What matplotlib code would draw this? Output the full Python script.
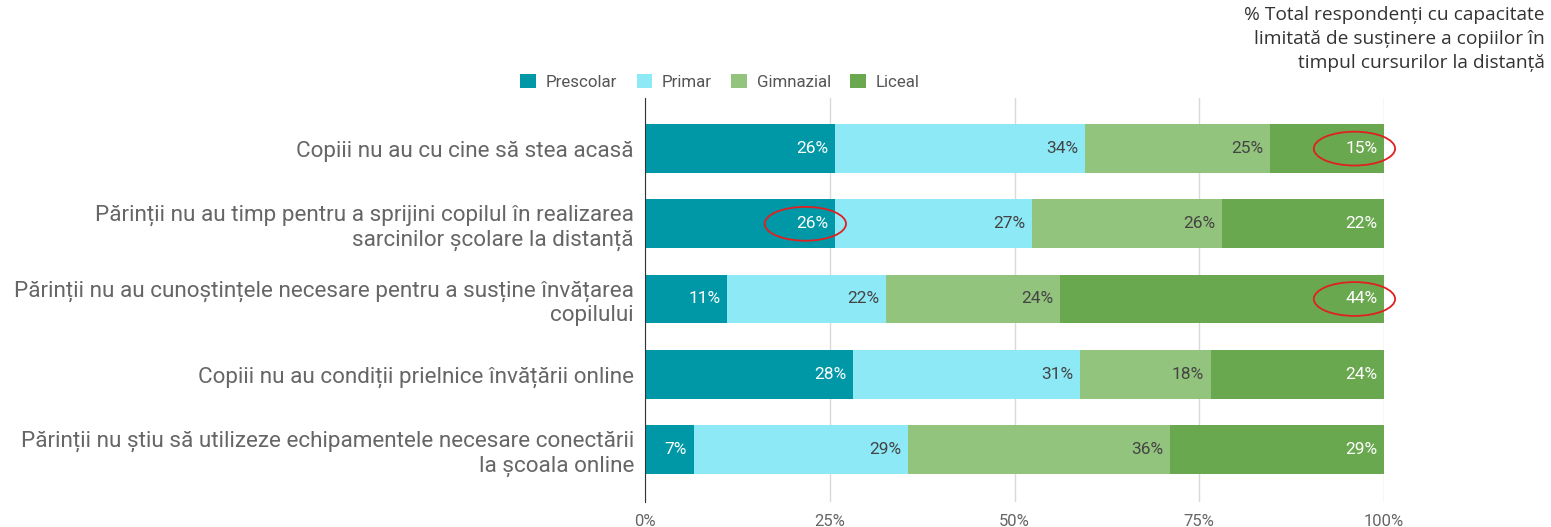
import numpy as np
import matplotlib.pyplot as plt
from matplotlib.patches import Ellipse

plt.rcParams['font.family'] = ['Roboto', 'DejaVu Sans']

categories = [
    'Copiii nu au cu cine să stea acasă',
    'Părinții nu au timp pentru a sprijini copilul în realizarea\nsarcinilor școlare la distanță',
    'Părinții nu au cunoștințele necesare pentru a susține învățarea\ncopilului',
    'Copiii nu au condiții prielnice învățării online',
    'Părinții nu știu să utilizeze echipamentele necesare conectării\nla școala online',
]
series = ['Prescolar', 'Primar', 'Gimnazial', 'Liceal']
prescolar = [25.7, 25.7, 11.1, 28.1, 6.6]
primar = [33.8, 26.7, 21.5, 30.7, 29.1]
gimnazial = [25.0, 25.7, 23.5, 17.7, 35.6]
liceal = [15.4, 21.9, 43.8, 23.4, 29.0]
labels = [
    ['26%', '26%', '11%', '28%', '7%'],
    ['34%', '27%', '22%', '31%', '29%'],
    ['25%', '26%', '24%', '18%', '36%'],
    ['15%', '22%', '44%', '24%', '29%'],
]
# highlighted cells (row, series)
highlights = [(0, 3), (1, 0), (2, 3)]

colors = ['#0097a7', '#8de9f6', '#93c47d', '#6aa84f']
text_colors = ['white', '#444444', '#444444', 'white']

data = np.array([prescolar, primar, gimnazial, liceal])
data = data / data.sum(axis=0) * 100
y = np.arange(len(categories))

fig = plt.figure(figsize=(15.51, 5.27), dpi=100)
ax = fig.add_axes([645 / 1551, 1 - 502 / 527, 739 / 1551, 404 / 527])

left = np.zeros(len(categories))
for i, name in enumerate(series):
    ax.barh(y, data[i], left=left, height=0.65, color=colors[i], label=name, zorder=2)
    for j in range(len(categories)):
        ax.text(left[j] + data[i][j] - 0.9, y[j], labels[i][j], ha='right', va='center',
                color=text_colors[i], fontsize=12.5, zorder=3)
    left = left + data[i]

# red ellipses around highlighted values
starts = np.vstack([np.zeros(len(categories)), np.cumsum(data, axis=0)[:-1]])
for r, s in highlights:
    xc = starts[s][r] + data[s][r] - 4.0
    ax.add_patch(Ellipse((xc, y[r]), 11.0, 0.45, fill=False, edgecolor='#e02020',
                         linewidth=1.3, zorder=4, clip_on=False))

ax.set_xlim(0, 100)
ax.set_ylim(4.70, -0.673)
ax.set_yticks(y)
ax.set_yticklabels(categories, fontsize=16.2, color='#666666')
ax.set_xticks([0, 25, 50, 75, 100])
ax.set_xticklabels(['0%', '25%', '50%', '75%', '100%'], fontsize=12, color='#666666')
ax.tick_params(axis='both', length=0)
ax.tick_params(axis='y', pad=8)
ax.tick_params(axis='x', pad=9)
ax.grid(axis='x', color='#d9d9d9', linewidth=1, zorder=0)
for side in ['top', 'right', 'bottom']:
    ax.spines[side].set_visible(False)
ax.spines['left'].set_color('#333333')
ax.spines['left'].set_zorder(5)

leg = fig.legend(loc='center', bbox_to_anchor=(720 / 1551, 1 - 82 / 527), ncol=4, frameon=False,
                 fontsize=12.2, handlelength=0.9, handleheight=0.9, handletextpad=0.6,
                 columnspacing=1.15, labelcolor='#555555')

fig.text(1545 / 1551, 1 - 6 / 527,
         '% Total respondenți cu capacitate\nlimitată de susținere a copiilor în\ntimpul cursurilor la distanță',
         ha='right', va='top', fontsize=13.8, color='#333333', family=['Open Sans', 'DejaVu Sans'],
         linespacing=1.42)

fig.savefig('out.png', dpi=100)
